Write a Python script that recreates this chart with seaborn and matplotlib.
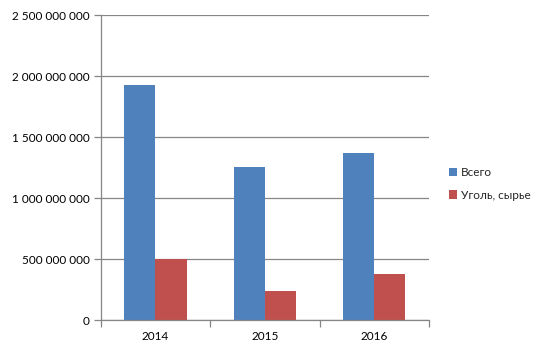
import matplotlib
matplotlib.use("Agg")
import matplotlib.pyplot as plt
import matplotlib.ticker as mticker
from matplotlib.patches import Patch
import seaborn as sns
import pandas as pd

years = ["2014", "2015", "2016"]
series_names = ["Всего", "Уголь, сырье"]
total = [1926000000, 1254000000, 1369000000]
coal = [497000000, 240000000, 377000000]
colors = ["#4F81BD", "#C0504D"]

df = pd.DataFrame({
    "year": years * 2,
    "series": [series_names[0]] * 3 + [series_names[1]] * 3,
    "value": total + coal,
})

sns.set_theme(style="white")
plt.rcParams["font.family"] = ["Lato", "DejaVu Sans"]

fig = plt.figure(figsize=(5.48, 3.59), dpi=100)
ax = fig.add_axes([0.1838, 0.1086, 0.599, 0.8496])

sns.barplot(data=df, x="year", y="value", hue="series", palette=colors,
            width=0.57, ax=ax, legend=False, saturation=1, errorbar=None,
            linewidth=0, edgecolor="none")

ax.set_ylim(0, 2500000000)
ax.set_xlim(-0.5, 2.5)
ax.yaxis.set_major_locator(mticker.MultipleLocator(500000000))
ax.yaxis.set_major_formatter(mticker.FuncFormatter(lambda v, p: f"{int(v):,}".replace(",", " ")))
ax.grid(axis="y", color="#868686", linewidth=0.9)
ax.set_axisbelow(True)
for s in ["top", "right"]:
    ax.spines[s].set_visible(False)
for s in ["left", "bottom"]:
    ax.spines[s].set_color("#868686")
    ax.spines[s].set_linewidth(0.9)
ax.set_xlabel("")
ax.set_ylabel("")
ax.tick_params(axis="y", which="major", length=5, color="#868686", width=0.9, labelsize=8.5, pad=3, left=True)
ax.tick_params(axis="x", which="major", length=0, labelsize=8.5, pad=8)
ax.set_xticks([-0.5, 0.5, 1.5, 2.5], minor=True)
ax.tick_params(axis="x", which="minor", length=5, color="#868686", width=0.9, bottom=True)
for lab in ax.get_xticklabels() + ax.get_yticklabels():
    lab.set_color("black")

handles = [Patch(facecolor=c, edgecolor="none") for c in colors]
fig.legend(handles, series_names, loc="upper left", bbox_to_anchor=(0.8, 0.565),
           frameon=False, fontsize=8.5, handlelength=0.7, handleheight=0.7,
           handletextpad=0.3, labelspacing=1.0)

fig.savefig("out.png", dpi=100)
